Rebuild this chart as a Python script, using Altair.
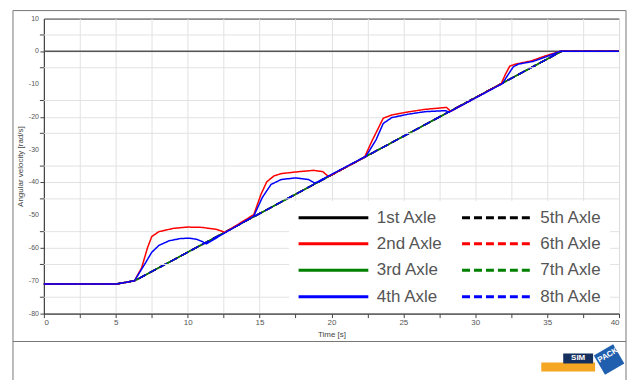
import altair as alt
import pandas as pd

# ---- data ----
series_order = ["1st Axle", "2nd Axle", "3rd Axle", "4th Axle",
                "5th Axle", "6th Axle", "7th Axle", "8th Axle"]
series_colors = ["#000000", "#ff0000", "#008000", "#0000ff",
                 "#000000", "#ff0000", "#008000", "#0000ff"]
series_dash = [[1, 0], [1, 0], [1, 0], [1, 0], [8, 4], [8, 4], [8, 4], [8, 4]]

y_major = list(range(-80, 11, 10))
y_minor = list(range(-75, 10, 10))

# common ramp followed by axles 1, 3, 5, 6, 7, 8
base_t = [0, 5, 6.3, 36, 40]
base_v = [-71, -71, -70, 0, 0]

# 2nd axle
red_t = [0, 5, 6.3, 6.8, 7.2, 7.5, 8.0, 9.0, 10.0, 11.0, 12.0, 12.6,
         14.6, 15.1, 15.5, 16.0, 16.5, 17.5, 18.75, 19.4, 19.8,
         22.3, 22.8, 23.6, 24.2, 25.3, 26.5, 28.0, 28.3,
         31.8, 32.1, 32.4, 32.8, 33.9, 34.8, 35.9, 40]
red_v = [-71, -71, -70, -66, -60, -56.5, -55, -54, -53.6, -53.7, -54.3, -55.2,
         -49.8, -43.6, -39.8, -38, -37.3, -36.8, -36.3, -36.7, -38.2,
         -32.3, -27.5, -20.4, -19.4, -18.5, -17.7, -17.1, -18.3,
         -9.9, -7, -4.5, -3.9, -2.9, -1.5, 0, 0]

# 4th axle
blue_t = [0, 5, 6.3, 7.0, 7.5, 8.0, 8.7, 9.5, 10.1, 10.6, 11.0, 11.3,
          14.6, 15.2, 15.8, 16.5, 17.5, 18.4, 18.85,
          22.4, 23.1, 23.6, 24.2, 25.3, 26.5, 27.9, 28.2,
          31.9, 32.3, 32.65, 33.0, 34.0, 34.9, 35.9, 40]
blue_v = [-71, -71, -70, -65, -61.3, -59.2, -57.8, -57.1, -57, -57.3, -58, -58.7,
          -50.2, -44.5, -40.6, -39.1, -38.6, -39.1, -40.2,
          -32.0, -27, -22, -20.2, -19.2, -18.4, -18.1, -18.5,
          -9.8, -7, -4.7, -3.9, -3.1, -1.7, 0, 0]

rows = []
for s in ["1st Axle", "3rd Axle", "5th Axle", "6th Axle", "7th Axle", "8th Axle"]:
    for t, v in zip(base_t, base_v):
        rows.append({"series": s, "t": t, "v": v})
for t, v in zip(red_t, red_v):
    rows.append({"series": "2nd Axle", "t": t, "v": v})
for t, v in zip(blue_t, blue_v):
    rows.append({"series": "4th Axle", "t": t, "v": v})
df = pd.DataFrame(rows)

FONT = "Liberation Sans"

YSCALE = alt.Scale(domain=[-80, 10], nice=False)

x_enc = alt.X("t:Q", scale=alt.Scale(domain=[0, 40], nice=False),
              axis=alt.Axis(title="Time [s]", values=[i * 2.5 for i in range(17)],
                            labelExpr="datum.value % 5 == 0 ? datum.label : ''",
                            labelOverlap=False,
                            titleFontSize=8, titleFontWeight="normal", titlePadding=4,
                            labelFontSize=8, labelColor="#555", titleColor="#444",
                            tickColor="#444", domainColor="#333", tickSize=4,
                            gridColor="#e2e2e2", labelPadding=1))
y_enc = alt.Y("v:Q", scale=YSCALE,
              axis=alt.Axis(title="Angular velocity [rad/s]", values=y_major,
                            labels=False,
                            titleFontSize=8, titleFontWeight="normal", titlePadding=15,
                            titleColor="#444",
                            tickColor="#444", domainColor="#333", tickSize=4,
                            gridColor="#e2e2e2"))

legend_kw = dict(orient="none", legendX=246, legendY=183,
                 columns=2, title=None,
                 symbolType="M -1 0 H 9", symbolSize=196,
                 symbolStrokeWidth=3, labelFontSize=17,
                 labelFont=FONT, labelColor="#555",
                 labelOffset=63, rowPadding=8.5,
                 columnPadding=12, fillColor="white",
                 padding=8)
color_enc = alt.Color("series:N",
                      scale=alt.Scale(domain=series_order, range=series_colors),
                      legend=alt.Legend(**legend_kw))
dash_enc = alt.StrokeDash("series:N",
                          scale=alt.Scale(domain=series_order, range=series_dash),
                          legend=alt.Legend(**legend_kw))

base = alt.Chart(df)

others = base.transform_filter(
    "datum.series != '2nd Axle' && datum.series != '4th Axle'"
).mark_line(strokeWidth=1.5).encode(x=x_enc, y=y_enc, color=color_enc, strokeDash=dash_enc)
red = base.transform_filter("datum.series == '2nd Axle'").mark_line(strokeWidth=1.5).encode(
    x=x_enc, y=y_enc, color=color_enc, strokeDash=dash_enc)
blue = base.transform_filter("datum.series == '4th Axle'").mark_line(strokeWidth=1.5).encode(
    x=x_enc, y=y_enc, color=color_enc, strokeDash=dash_enc)

deco = pd.DataFrame({"k": [0]})
minor_layers = []
for m in y_minor:
    minor_layers.append(alt.Chart(deco).mark_rule(color="#e2e2e2", strokeWidth=1).encode(
        y=alt.datum(m)))
    minor_layers.append(alt.Chart(deco).mark_rule(color="#444", strokeWidth=1).encode(
        y=alt.datum(m), x=alt.value(-4), x2=alt.value(0)))

# y tick labels placed through the y scale
label_layers = [
    alt.Chart(deco).mark_text(text=str(v), align="right", baseline="middle",
                              fontSize=7, color="#555", font=FONT).encode(
        y=alt.datum(v), x=alt.value(-5))
    for v in y_major
]

zero = alt.Chart(deco).mark_rule(color="#555", strokeWidth=1.5).encode(y=alt.datum(0))

# outer frame and footer strip (decoration)
frame = alt.Chart(deco).mark_rect(fill="transparent", stroke="#777", strokeWidth=1).encode(
    x=alt.value(-31), x2=alt.value(584), y=alt.value(-8), y2=alt.value(400))
sep = alt.Chart(deco).mark_rule(color="#777", strokeWidth=1.2).encode(
    x=alt.value(-31), x2=alt.value(584), y=alt.value(324))
logo_o = alt.Chart(deco).mark_rect(color="#f5a623").encode(
    x=alt.value(499), x2=alt.value(553), y=alt.value(345), y2=alt.value(354))
logo_s = alt.Chart(deco).mark_rect(color="#15305e").encode(
    x=alt.value(521), x2=alt.value(551), y=alt.value(336), y2=alt.value(346))
logo_st = alt.Chart(deco).mark_text(text="SIM", color="white", fontSize=8, fontWeight="bold",
                                    font=FONT).encode(x=alt.value(536), y=alt.value(341))
logo_p = alt.Chart(deco).mark_point(shape="square", filled=True, color="#1f5fae",
                                    size=500, angle=330, opacity=1).encode(
    x=alt.value(567), y=alt.value(342))
logo_pt = alt.Chart(deco).mark_text(text="PACK", color="white", fontSize=8, fontWeight="bold",
                                    angle=330, font=FONT).encode(x=alt.value(566), y=alt.value(338))

chart = alt.layer(others, *minor_layers, zero, red, blue, *label_layers, frame, sep,
                  logo_o, logo_s, logo_st, logo_p, logo_pt
).properties(
    width=577, height=296,
    autosize=alt.AutoSizeParams(type="none"),
    padding={"left": 36, "top": 10, "right": 9, "bottom": 66},
).configure(font=FONT).configure_view(stroke="#333", strokeWidth=1)

chart.save("out.html", embed_options={"renderer": "svg", "actions": False})
